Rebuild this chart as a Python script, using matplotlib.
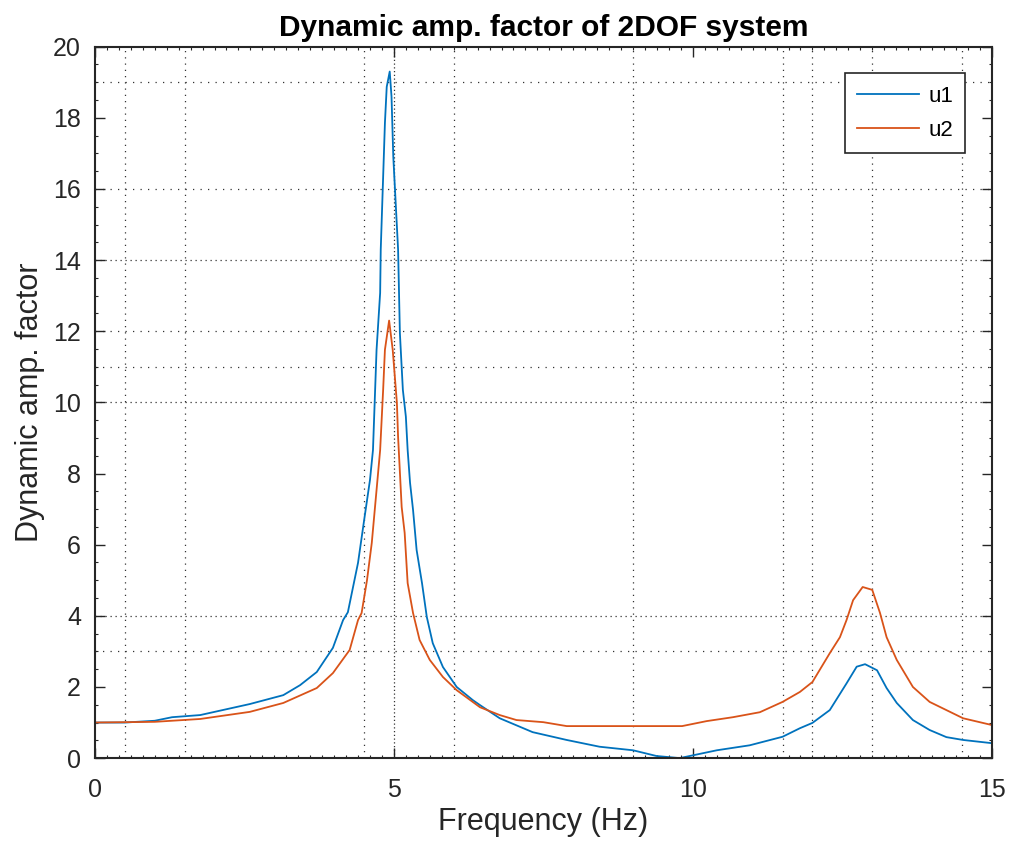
import matplotlib
matplotlib.use("Agg")
from matplotlib import pyplot as plt
from matplotlib.ticker import MultipleLocator

# values
f_u1 = [0.0, 0.5, 1.0, 1.29, 1.76, 2.59, 3.15, 3.43, 3.71, 3.98, 4.15, 4.23, 4.40,
        4.51, 4.60, 4.65, 4.71, 4.77, 4.78, 4.85, 4.88, 4.93, 4.96, 4.99, 5.07,
        5.10, 5.15, 5.20, 5.23, 5.27, 5.32, 5.38, 5.47, 5.55, 5.65, 5.82, 6.05,
        6.32, 6.44, 6.77, 7.32, 7.89, 8.44, 9.0, 9.39, 9.78, 10.4, 10.95, 11.5,
        11.79, 12.0, 12.29, 12.57, 12.74, 12.88, 13.08, 13.24, 13.41, 13.68,
        13.96, 14.24, 14.52, 15.0]
u1 = [1.0, 1.0, 1.05, 1.15, 1.21, 1.52, 1.77, 2.05, 2.42, 3.1, 3.88, 4.1, 5.49,
      6.78, 7.82, 8.66, 11.48, 13.08, 14.3, 17.86, 18.87, 19.3, 18.6, 16.9, 14.3,
      11.95, 10.35, 9.6, 8.66, 7.74, 6.98, 5.85, 4.92, 3.97, 3.23, 2.56, 2.0,
      1.63, 1.49, 1.12, 0.73, 0.51, 0.32, 0.22, 0.06, 0.0, 0.22, 0.36, 0.6,
      0.84, 0.99, 1.35, 2.1, 2.57, 2.64, 2.47, 1.97, 1.55, 1.07,
      0.79, 0.59, 0.51, 0.42]

f_u2 = [0.0, 1.0, 1.76, 2.59, 3.15, 3.71, 3.98, 4.26, 4.40, 4.46, 4.55, 4.63,
        4.71, 4.77, 4.82, 4.85, 4.92, 4.98, 5.05, 5.07, 5.13, 5.18, 5.23, 5.32,
        5.43, 5.60, 5.82, 6.05, 6.44, 6.77, 7.05, 7.5, 7.89, 9.82, 10.23, 10.67,
        11.12, 11.5, 11.79, 12.0, 12.29, 12.46, 12.57, 12.68, 12.84, 13.0, 13.13,
        13.24, 13.41, 13.68, 13.96, 14.24, 14.52, 15.0]
u2 = [1.0, 1.02, 1.1, 1.3, 1.55, 1.97, 2.39, 3.04, 3.88, 4.08, 5.0, 6.05,
      7.54, 8.66, 10.35, 11.48, 12.3, 11.48, 9.99, 9.03, 7.06, 6.33, 4.92, 4.08,
      3.32, 2.76, 2.28, 1.91, 1.43, 1.21, 1.07, 1.01, 0.9, 0.9, 1.04, 1.15,
      1.29, 1.58, 1.86, 2.14, 2.95, 3.4, 3.88, 4.44, 4.81, 4.73, 4.08,
      3.4, 2.76, 2.0, 1.58, 1.35, 1.12, 0.93]

xticks = [0, 5, 10, 15]
yticks = list(range(0, 21, 2))

# dotted grid lines as they show up in the reference
vgrid = [0.5, 1.5, 4.5, 5.0, 6.0, 9.0, 11.5, 12.0, 13.0, 14.5]
hgrid = [19, 16, 14, 12, 11, 10, 4, 3]

plt.rcParams['font.family'] = ['Liberation Sans', 'DejaVu Sans']

fig = plt.figure(figsize=(10.1, 8.48), dpi=100)
ax = fig.add_axes([0.094, 0.106, 0.888, 0.839])

for x in vgrid:
    ax.axvline(x, color='#333333', lw=0.9, ls=(0, (1, 4)) if x != 5.0 else (0, (1, 2)), zorder=0)
for y in hgrid:
    ax.axhline(y, color='#333333', lw=0.9, ls=(0, (1, 3)) if y in (14, 10, 4) else (0, (1, 5)), zorder=0)

ax.plot(f_u1, u1, color='#0072BD', lw=1.3, label='u1')
ax.plot(f_u2, u2, color='#D95319', lw=1.3, label='u2')

ax.set_xlim(0, 15)
ax.set_ylim(0, 20)
ax.set_xticks(xticks)
ax.set_yticks(yticks)
ax.xaxis.set_minor_locator(MultipleLocator(0.2))
ax.yaxis.set_minor_locator(MultipleLocator(0.5))
ax.tick_params(which='both', direction='in', top=True, right=True, colors='#262626',
               labelsize=18)
ax.tick_params(axis='x', pad=14)
ax.tick_params(axis='y', pad=10)
ax.tick_params(which='major', length=7, width=1)
ax.tick_params(which='minor', length=2.5, width=0.8)
for s in ax.spines.values():
    s.set_color('#262626')
    s.set_linewidth(1.5)

ax.set_xlabel('Frequency (Hz)', fontsize=22, color='#262626', labelpad=4)
ax.set_ylabel('Dynamic amp. factor', fontsize=22, color='#262626', labelpad=6)
ax.set_title('Dynamic amp. factor of 2DOF system', fontsize=21.5, fontweight='bold', pad=8)

leg = ax.legend(loc='upper right', fontsize=16, fancybox=False, framealpha=1,
                edgecolor='#262626', borderaxespad=1.2, handlelength=2.8,
                borderpad=0.55, labelspacing=0.6, handletextpad=0.4)
leg.get_frame().set_linewidth(1.2)

fig.savefig('out.png', dpi=100)
